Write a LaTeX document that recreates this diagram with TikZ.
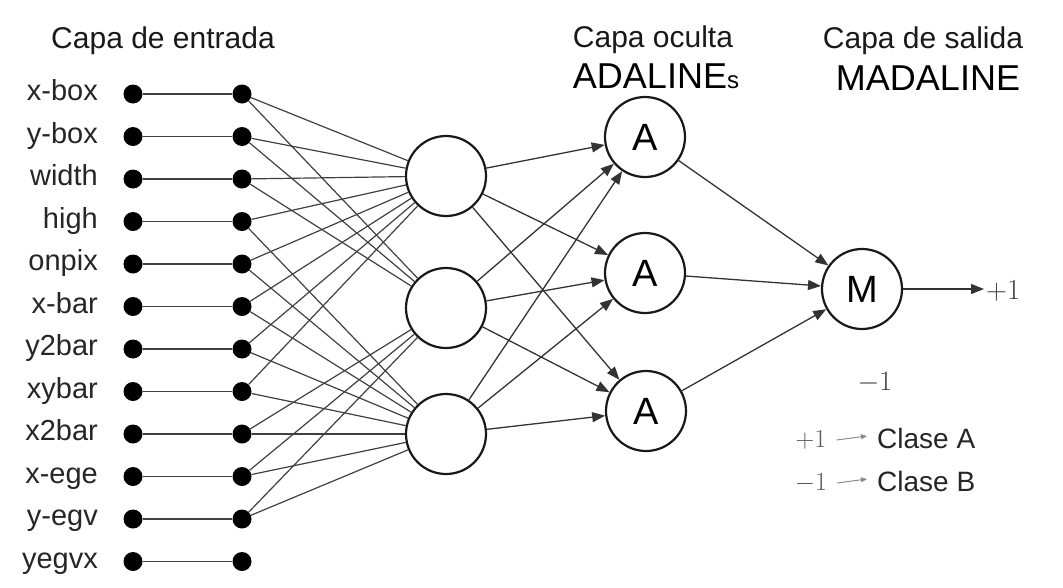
\documentclass[tikz,border=0pt]{standalone}
\usepackage{fix-cm}
\usepackage{fontspec}
\setmainfont{Liberation Sans}
\usetikzlibrary{arrows.meta}
\tikzset{
  lbl/.style={anchor=mid east, inner sep=0pt, font=\fontsize{29}{34}\selectfont, text=black!85},
  ttl/.style={anchor=base, inner sep=0pt, font=\fontsize{30}{36}\selectfont, text=black!90},
  big/.style={anchor=base, inner sep=0pt, font=\fontsize{36}{42}\selectfont, text=black},
  dotnode/.style={circle, fill=black, inner sep=0pt, minimum size=19pt},
  hid/.style={circle, draw=black!90, line width=2.2pt, minimum size=80pt, inner sep=0pt, font=\fontsize{38}{44}\selectfont},
  conn/.style={line width=1.2pt, draw=black!75},
  arr/.style={line width=1.3pt, draw=black!80, -{Triangle[length=13pt,width=10pt]}},
  legarr/.style={line width=1pt, draw=black!45, -{Triangle[length=6pt,width=5pt]}},
  num/.style={inner sep=0pt, font=\fontsize{26}{30}\selectfont, text=black!65},
}
\begin{document}
\begin{tikzpicture}[x=1pt,y=-1pt]
\useasboundingbox (0,0) rectangle (1063,587);
% titles
\node[ttl] (t1) at (163,48) {Capa de entrada};
\node[ttl] (t2) at (653,47) {Capa oculta};
\node[big] (t3) at (656,88) {ADALINE{\fontsize{24}{28}\selectfont s}};
\node[ttl] (t4) at (923,48) {Capa de salida};
\node[big] (t5) at (928,90) {MADALINE};
% inputs
\foreach \t [count=\i from 0] in {x-box,y-box,width,high,onpix,x-bar,y2bar,xybar,x2bar,x-ege,y-egv,yegvx} {
  \node[dotnode] (a\i) at (133,{94+42.5*\i}) {};
  \node[dotnode] (b\i) at (242,{94+42.5*\i}) {};
  \node[lbl] (l\i) at (98,{98+42.5*\i}) {\t};
  \draw[conn] (a\i) -- (b\i);
}
% hidden layer
\node[hid] (h1) at (446,176) {};
\node[hid] (h2) at (446,308) {};
\node[hid] (h3) at (446,434) {};
% input -> hidden
\foreach \i/\k in {0/1,0/2,1/1,1/2,2/1,2/2,3/1,3/3,4/1,4/3,5/1,5/3,6/1,6/3,7/1,7/3,8/2,8/3,9/2,9/3,10/2,10/3} {
  \draw[conn] (b\i) -- (h\k);
}
% ADALINEs
\node[hid] (A1) at (645,137) {A};
\node[hid] (A2) at (645,273) {A};
\node[hid] (A3) at (646,411) {A};
\foreach \k in {1,2,3} {
  \foreach \j in {1,2,3} {
    \draw[arr] (h\k) -- (A\j);
  }
}
% MADALINE
\node[hid] (M) at (862,289) {M};
\foreach \j in {1,2,3} {
  \draw[arr] (A\j) -- (M);
}
\coordinate (out) at (984,289);
\draw[arr] (M) -- (out);
\node[num, anchor=west, text=black!75, font=\fontsize{29}{32}\selectfont] (p1) at (986,291) {$+1$};
\node[num, text=black!75, font=\fontsize{28}{32}\selectfont] (m1) at (875,383) {$-1$};
% legend
\node[num] (la) at (811,440) {$+1$};
\node[num] (lb) at (811,483) {$-1$};
\node[anchor=west, inner sep=0pt, font=\fontsize{28}{34}\selectfont, text=black!85] (ca) at (877,438) {Clase A};
\node[anchor=west, inner sep=0pt, font=\fontsize{28}{34}\selectfont, text=black!85] (cb) at (877,481) {Clase B};
\draw[legarr] ([xshift=10pt]la.east) -- ([xshift=-10pt,yshift=2pt]ca.west);
\draw[legarr] ([xshift=10pt]lb.east) -- ([xshift=-10pt,yshift=2pt]cb.west);
\end{tikzpicture}
\end{document}
